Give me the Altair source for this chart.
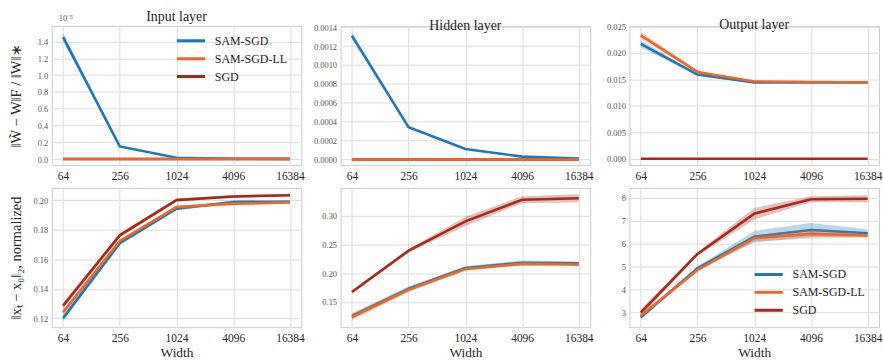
import altair as alt
import pandas as pd

widths = [64, 256, 1024, 4096, 16384]
methods = ["SAM-SGD", "SAM-SGD-LL", "SGD"]
colors = ["#1f77b4", "#e8692b", "#a52a1d"]
draw_order = ["SGD", "SAM-SGD", "SAM-SGD-LL"]

# ---- Input layer (values in units of 1e-5) ----
input_sam = [1.45, 0.15, 0.015, 0.004, 0.002]
input_samll = [0.0, 0.0, 0.0, 0.0, 0.0]
input_sgd = [0.0, 0.0, 0.0, 0.0, 0.0]
input_sam_err = [0.05, 0.012, 0.004, 0.001, 0.001]
input_samll_err = [0.0, 0.0, 0.0, 0.0, 0.0]
input_sgd_err = [0.0, 0.0, 0.0, 0.0, 0.0]

# ---- Hidden layer ----
hidden_sam = [0.00131, 0.00034, 0.00011, 0.00003, 0.00001]
hidden_samll = [0.0, 0.0, 0.0, 0.0, 0.0]
hidden_sgd = [0.0, 0.0, 0.0, 0.0, 0.0]
hidden_sam_err = [0.00003, 0.00001, 0.000005, 0.000003, 0.000002]
hidden_samll_err = [0.0, 0.0, 0.0, 0.0, 0.0]
hidden_sgd_err = [0.0, 0.0, 0.0, 0.0, 0.0]

# ---- Output layer ----
output_sam = [0.0217, 0.0159, 0.0144, 0.0144, 0.0144]
output_samll = [0.0233, 0.0164, 0.0146, 0.0145, 0.0144]
output_sgd = [0.0, 0.0, 0.0, 0.0, 0.0]
output_sam_err = [0.0007, 0.0002, 0.0001, 0.0001, 0.0001]
output_samll_err = [0.0007, 0.0002, 0.0001, 0.0001, 0.0001]
output_sgd_err = [0.0, 0.0, 0.0, 0.0, 0.0]

# ---- Distance, input layer ----
dist_in_sam = [0.1202, 0.1709, 0.1942, 0.1987, 0.1989]
dist_in_samll = [0.1242, 0.1724, 0.1953, 0.1976, 0.1984]
dist_in_sgd = [0.1287, 0.1762, 0.2000, 0.2024, 0.2033]
dist_in_sam_err = [0.002, 0.001, 0.001, 0.001, 0.001]
dist_in_samll_err = [0.002, 0.001, 0.001, 0.001, 0.001]
dist_in_sgd_err = [0.002, 0.0015, 0.001, 0.001, 0.001]

# ---- Distance, hidden layer ----
dist_hid_sam = [0.125, 0.173, 0.209, 0.218, 0.217]
dist_hid_samll = [0.1236, 0.171, 0.207, 0.216, 0.215]
dist_hid_sgd = [0.167, 0.239, 0.290, 0.3275, 0.330]
dist_hid_sam_err = [0.005, 0.004, 0.003, 0.004, 0.003]
dist_hid_samll_err = [0.006, 0.004, 0.003, 0.003, 0.003]
dist_hid_sgd_err = [0.003, 0.003, 0.008, 0.006, 0.007]

# ---- Distance, output layer ----
dist_out_sam = [2.80, 4.93, 6.31, 6.60, 6.46]
dist_out_samll = [2.87, 4.86, 6.24, 6.43, 6.36]
dist_out_sgd = [3.00, 5.56, 7.31, 7.94, 7.96]
dist_out_sam_err = [0.10, 0.08, 0.25, 0.30, 0.17]
dist_out_samll_err = [0.10, 0.07, 0.13, 0.20, 0.10]
dist_out_sgd_err = [0.15, 0.08, 0.25, 0.13, 0.15]

FONT = "Liberation Serif"
XDOMAIN = [2 ** 5.6, 2 ** 14.4]


def panel(means, errs, title, ydomain, yticks, yfmt, ytitle, xtitle, legend_y=None, extra=None):
    rows = []
    for m, vals, es in zip(methods, means, errs):
        for w, v, e in zip(widths, vals, es):
            rows.append(dict(width=w, method=m, mean=v, lo=v - e, hi=v + e))
    df = pd.DataFrame(rows)

    x = alt.X(
        "width:Q",
        scale=alt.Scale(type="log", base=2, domain=XDOMAIN, nice=False),
        axis=alt.Axis(values=widths, format="d", title=xtitle if xtitle else None),
    )
    yaxis_kw = dict(values=yticks, format=yfmt)
    if ytitle:
        yaxis_kw.update(title=ytitle, minExtent=26, maxExtent=26)
    else:
        yaxis_kw.update(title=None)
    yscale = alt.Scale(domain=ydomain, nice=False, zero=False)

    if legend_y is not None:
        legend = alt.Legend(
            orient="none", legendX=124, legendY=legend_y, title=None,
            symbolType="stroke", symbolSize=800, symbolStrokeWidth=3,
            labelFont=FONT, labelFontSize=12, labelColor="#262626",
            clipHeight=14, rowPadding=4, labelOffset=8,
        )
    else:
        legend = None
    color = alt.Color("method:N", scale=alt.Scale(domain=methods, range=colors), legend=legend)

    layers = []
    base = alt.Chart(df)
    for m in draw_order:
        c = colors[methods.index(m)]
        b = base.transform_filter(alt.datum.method == m)
        area = b.mark_area(opacity=0.3, color=c).encode(
            x=x,
            y=alt.Y("lo:Q", scale=yscale, axis=alt.Axis(**yaxis_kw)),
            y2="hi:Q",
        )
        line = b.mark_line(strokeWidth=2.6).encode(
            x=x,
            y=alt.Y("mean:Q", scale=yscale, axis=alt.Axis(**yaxis_kw)),
            color=color,
        )
        layers += [area, line]
    if extra is not None:
        layers.append(extra)
    props = dict(width=251, height=140)
    if title:
        props["title"] = alt.TitleParams(title, font=FONT, fontSize=14, fontWeight="normal",
                                         color="#262626", offset=-10)
    return alt.layer(*layers).properties(**props)


exp_text = alt.Chart(pd.DataFrame({"t": ["10⁻⁵"]})).mark_text(
    font=FONT, fontSize=8.5, color="#555555", align="left", baseline="bottom"
).encode(x=alt.value(7), y=alt.value(-3), text="t:N")

top_title = "‖W̃ − W‖F / ‖W‖∗"
bot_title = "‖xₜ − x₀‖₂, normalized"

p1 = panel([input_sam, input_samll, input_sgd], [input_sam_err, input_samll_err, input_sgd_err],
           "Input layer", [-0.072, 1.585], [0, 0.2, 0.4, 0.6, 0.8, 1.0, 1.2, 1.4], ".1f",
           top_title, None, legend_y=8, extra=exp_text)
p2 = panel([hidden_sam, hidden_samll, hidden_sgd], [hidden_sam_err, hidden_samll_err, hidden_sgd_err],
           "Hidden layer", [-0.00006, 0.001414], [0, 0.0002, 0.0004, 0.0006, 0.0008, 0.0010, 0.0012, 0.0014], ".4f",
           None, None)
p3 = panel([output_sam, output_samll, output_sgd], [output_sam_err, output_samll_err, output_sgd_err],
           "Output layer", [-0.0012, 0.0251], [0, 0.005, 0.010, 0.015, 0.020, 0.025], ".3f",
           None, None)
p4 = panel([dist_in_sam, dist_in_samll, dist_in_sgd], [dist_in_sam_err, dist_in_samll_err, dist_in_sgd_err],
           "", [0.1142, 0.2082], [0.12, 0.14, 0.16, 0.18, 0.20], ".2f",
           bot_title, "Width")
p5 = panel([dist_hid_sam, dist_hid_samll, dist_hid_sgd], [dist_hid_sam_err, dist_hid_samll_err, dist_hid_sgd_err],
           "", [0.106, 0.348], [0.15, 0.20, 0.25, 0.30], ".2f",
           None, "Width")
p6 = panel([dist_out_sam, dist_out_samll, dist_out_sgd], [dist_out_sam_err, dist_out_samll_err, dist_out_sgd_err],
           "", [2.37, 8.43], [3, 4, 5, 6, 7, 8], "d",
           None, "Width", legend_y=80)

chart = alt.concat(
    p1, p2, p3, p4, p5, p6, columns=3, spacing={"row": 23, "column": 39.5}, bounds="flush"
).resolve_scale(color="independent").properties(
    padding={"left": 8, "top": 8, "right": 0, "bottom": 0}
).configure_view(
    stroke="#cccccc", strokeWidth=1
).configure_axis(
    grid=True, gridColor="#dcdcdc", gridWidth=1, domain=False, ticks=False,
    labelFont=FONT, titleFont=FONT, titleFontWeight="normal", titleColor="#262626",
).configure_axisX(
    labelFontSize=11.5, labelColor="#262626", labelPadding=5, titleFontSize=13.5, titlePadding=2,
).configure_axisY(
    labelFontSize=8.5, labelColor="#555555", labelPadding=4, titleFontSize=14.5, titlePadding=2,
)

chart.save("out.html", embed_options={"renderer": "svg", "actions": False})
